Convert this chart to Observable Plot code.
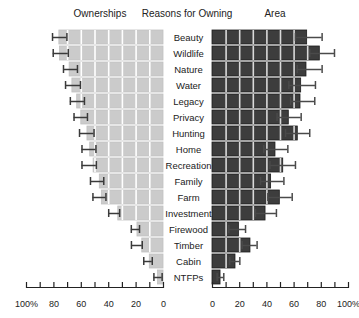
<!DOCTYPE html>
<html><head><meta charset="utf-8">
<script src="https://cdn.jsdelivr.net/npm/d3@7"></script>
<script src="https://cdn.jsdelivr.net/npm/@observablehq/plot@0.6"></script>
<style>
body{margin:0;background:#fff;}
#wrap{position:relative;width:359px;height:318px;overflow:hidden;font-family:"Liberation Sans",Arial,sans-serif;background:#fff;}
.ttl{position:absolute;top:8px;font-size:10px;color:#222;transform:translateX(-50%);white-space:nowrap;line-height:12px}
#wrap svg{position:absolute;top:0}
</style></head><body>
<div id="wrap">
<div class="ttl" style="left:100px">Ownerships</div>
<div class="ttl" style="left:187px">Reasons for Owning</div>
<div class="ttl" style="left:275px">Area</div>
</div>
<script>
const categories = ["Beauty","Wildlife","Nature","Water","Legacy","Privacy","Hunting","Home","Recreation","Family","Farm","Investment","Firewood","Timber","Cabin","NTFPs"];
const ownPct = [76, 75.5, 68.5, 66.5, 63, 60, 55.5, 53.5, 51, 46.5, 45, 33, 19, 15.5, 10, 4];
const ownLo  = [70.5, 69.5, 62.8, 60.6, 57.7, 55.5, 50.7, 49.3, 49, 43.6, 42, 32, 17.5, 15.5, 8.2, 1];
const ownHi  = [81, 80.5, 73, 71.5, 68, 65.3, 61.3, 59.5, 59.5, 53.3, 51.5, 40, 23.5, 23.4, 14.4, 7];
const areaPct = [69.6, 78.9, 69.1, 65.2, 64.7, 56.1, 62.7, 46.3, 52, 43.1, 49.5, 39, 19.4, 27.9, 16.9, 5.9];
const areaLo  = [61, 71.5, 62.3, 56.1, 57.4, 47.5, 53.7, 37.7, 42.2, 35.3, 40.7, 31.6, 12, 21.8, 12.7, 3.4];
const areaHi  = [80.6, 89.7, 80.6, 75.7, 75.2, 65.2, 71.5, 55.4, 61, 52.5, 58.6, 47, 24.3, 32.8, 20.1, 8.3];
const tickLabels = [0, 20, 40, 60, 80, 100];
const minorTicks = [0, 10, 20, 30, 40, 50, 60, 70, 80, 90, 100];
const gridTicks = [10, 20, 30, 40, 50, 60, 70, 80, 90];

const ownRows = categories.map((c, i) => ({cat: c, v: ownPct[i], lo: ownLo[i], hi: ownHi[i]}));
const areaRows = categories.map((c, i) => ({cat: c, v: areaPct[i], lo: areaLo[i], hi: areaHi[i]}));
const gridFor = rows => rows.flatMap(r => gridTicks.filter(t => t < r.v).map(t => ({cat: r.cat, t})));

const H = 318, MT = 27, MB = 31;
const frameH = H - MT - MB;
const fmt = d => d === 100 ? "100%" : String(d);
const font = {background: "transparent", overflow: "visible", fontFamily: "'Liberation Sans', Arial, sans-serif", color: "#222"};

function panel(rows, opts) {
  return Plot.plot({
    width: opts.width, height: H,
    marginLeft: opts.ml, marginRight: opts.mr, marginTop: MT, marginBottom: MB,
    style: font,
    x: {domain: [0, 100], reverse: opts.reverse, axis: null},
    y: {domain: categories, padding: 0.12, axis: null},
    marks: [
      Plot.barX(rows, {x: "v", y: "cat", fill: opts.fill, stroke: opts.stroke, strokeWidth: 0.8}),
      Plot.tickX(gridFor(rows), {x: "t", y: "cat", stroke: opts.grid, strokeWidth: 1.6}),
      Plot.ruleY(rows, {y: "cat", x1: "lo", x2: "hi", stroke: opts.err, strokeWidth: 1.5}),
      Plot.tickX(rows, {x: "lo", y: "cat", stroke: opts.err, strokeWidth: 1.5, insetTop: 3, insetBottom: 3}),
      Plot.tickX(rows, {x: "hi", y: "cat", stroke: opts.err, strokeWidth: 1.5, insetTop: 3, insetBottom: 3}),
      Plot.frame({anchor: "bottom", stroke: "#222", strokeWidth: 1.2}),
      Plot.tickX(minorTicks, {x: d => d, stroke: "#222", strokeWidth: 1.2, insetTop: frameH - 5}),
      Plot.axisX({ticks: tickLabels, tickSize: 0, tickPadding: 13, tickFormat: fmt, fontSize: 9, fill: "#222"}),
      ...(opts.labels ? [Plot.text(categories, {x: 0, y: d => d, dx: 25, textAnchor: "middle", fontSize: 9.5, fill: "#222"})] : [])
    ]
  });
}

const left = panel(ownRows, {width: 180, ml: 26, mr: 17, reverse: true, fill: "#cbcbcb", stroke: "#c0c0c0", grid: "#ffffff", err: "#3a3a3a", labels: true});
left.style.left = "0px";
const right = panel(areaRows, {width: 179, ml: 32, mr: 11, reverse: false, fill: "#3d3d3d", stroke: "#1c1c1c", grid: "#d9d9d9", err: "#4a4a4a", labels: false});
right.style.left = "180px";
const wrap = document.getElementById("wrap");
wrap.appendChild(left);
wrap.appendChild(right);
</script>
</body></html>
